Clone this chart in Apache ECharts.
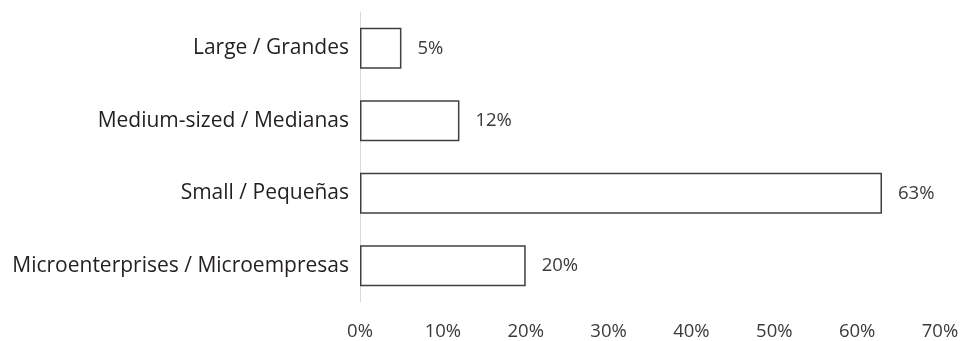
<!DOCTYPE html>
<html>
<head>
<meta charset="utf-8">
<script src="https://cdn.jsdelivr.net/npm/echarts@6/dist/echarts.min.js"></script>
<style>
  html, body { margin: 0; padding: 0; background: #ffffff; }
  #chart { width: 964px; height: 341px; }
</style>
</head>
<body>
<div id="chart"></div>
<script>
// Company size categories, top to bottom
const categories = [
  'Large / Grandes',
  'Medium-sized / Medianas',
  'Small / Pequeñas',
  'Microenterprises / Microempresas'
];
// Share of companies (%)
const shares = [5, 12, 63, 20];
// Percentage ticks printed under the chart
const tickValues = [0, 10, 20, 30, 40, 50, 60, 70];

const chart = echarts.init(document.getElementById('chart'), null, { renderer: 'canvas' });

const option = {
  animation: false,
  backgroundColor: '#ffffff',
  grid: { left: 360, top: 12, width: 580, height: 290 },
  xAxis: {
    type: 'value',
    min: tickValues[0],
    max: tickValues[tickValues.length - 1],
    interval: tickValues[1] - tickValues[0],
    axisLine: { show: false },
    axisTick: { show: false },
    splitLine: { show: false },
    axisLabel: {
      margin: 20,
      color: '#3a3a3a',
      fontFamily: 'Open Sans',
      fontSize: 18.5,
      formatter: v => v + '%'
    }
  },
  yAxis: {
    type: 'category',
    inverse: true,
    data: categories,
    axisLine: { show: true, lineStyle: { color: '#d9d9d9', width: 1 } },
    axisTick: { show: false },
    axisLabel: {
      margin: 11,
      color: '#231f20',
      fontFamily: 'Open Sans',
      fontSize: 21
    }
  },
  series: [
    {
      type: 'bar',
      data: shares,
      barWidth: 41,
      itemStyle: { color: '#ffffff', borderColor: '#404040', borderWidth: 1.5 },
      label: {
        show: true,
        position: 'right',
        distance: 16,
        color: '#3a3a3a',
        fontFamily: 'Open Sans',
        fontSize: 18.5,
        formatter: p => p.value + '%'
      }
    }
  ]
};

chart.setOption(option);
</script>
</body>
</html>
